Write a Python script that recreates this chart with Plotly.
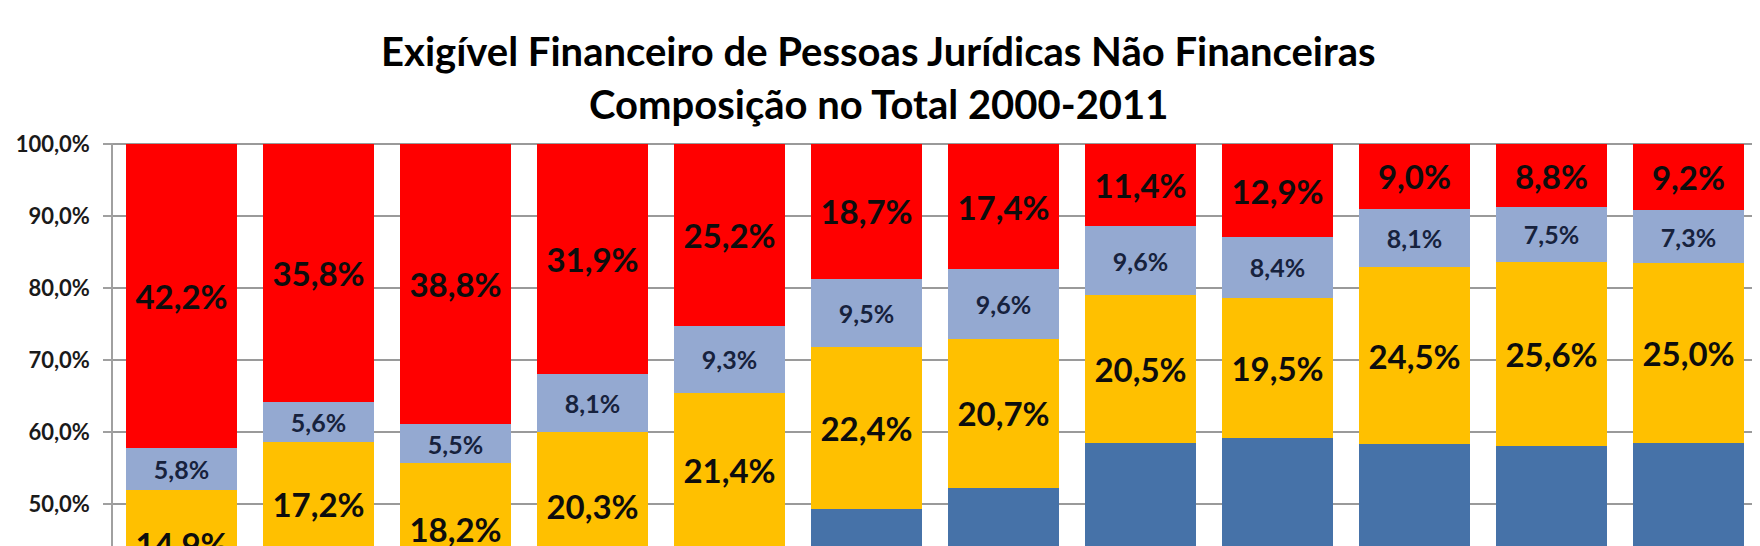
import plotly.graph_objects as go

years = ["2000", "2001", "2002", "2003", "2004", "2005",
         "2006", "2007", "2008", "2009", "2010", "2011"]
# stacked shares (%), bottom to top
blue = [37.1, 41.4, 37.5, 39.7, 44.1, 49.4, 52.3, 58.5, 59.2, 58.4, 58.1, 58.5]
yellow = [14.9, 17.2, 18.2, 20.3, 21.4, 22.4, 20.7, 20.5, 19.5, 24.5, 25.6, 25.0]
lightblue = [5.8, 5.6, 5.5, 8.1, 9.3, 9.5, 9.6, 9.6, 8.4, 8.1, 7.5, 7.3]
red = [42.2, 35.8, 38.8, 31.9, 25.2, 18.7, 17.4, 11.4, 12.9, 9.0, 8.8, 9.2]

tick_vals = [40, 50, 60, 70, 80, 90, 100]
tick_text = ["40,0%", "50,0%", "60,0%", "70,0%", "80,0%", "90,0%", "100,0%"]

title_line1 = "Exigível Financeiro de Pessoas Jurídicas Não Financeiras"
title_line2 = "Composição no Total 2000-2011"


def fmt(v):
    return f"{v:.1f}".replace(".", ",") + "%"


FONT = "Lato"
OFF = 8  # default body margin of the html page
W, H = 1760 - OFF, 546 - OFF
ML, MR, MT, MB = 113 - OFF, 3, 143 - OFF, 0
Y0, Y1 = 44.24, 100.14

fig = go.Figure()

common = dict(textposition="inside", insidetextanchor="middle", textangle=0,
              constraintext="none", marker_line_width=0, hoverinfo="skip")

fig.add_trace(go.Bar(x=years, y=blue, marker_color="#4672A8", name="blue",
                     textposition="none", marker_line_width=0))
fig.add_trace(go.Bar(x=years, y=yellow, marker_color="#FFC000", name="yellow",
                     text=[fmt(v) for v in yellow],
                     textfont=dict(family=FONT, size=33, color="#0d0d0d", weight="bold"),
                     **common))
fig.add_trace(go.Bar(x=years, y=lightblue, marker_color="#94A9D1", name="lightblue",
                     text=[fmt(v) for v in lightblue],
                     textfont=dict(family=FONT, size=25, color="#17223D", weight="bold"),
                     **common))
fig.add_trace(go.Bar(x=years, y=red, marker_color="#FF0000", name="red",
                     text=[fmt(v) for v in red],
                     textfont=dict(family=FONT, size=33, color="#0d0d0d", weight="bold"),
                     **common))

plot_h = H - MT - MB
plot_w = W - ML - MR


def py(pix):
    return (H - MB - (pix - OFF)) / plot_h


def px(pix):
    return (pix - OFF - ML) / plot_w


fig.add_annotation(text=f"<b>{title_line1}</b>", xref="paper", yref="paper",
                   x=px(878), y=py(50.5), xanchor="center", yanchor="middle",
                   showarrow=False, font=dict(family=FONT, size=40, color="#000000"))
fig.add_annotation(text=f"<b>{title_line2}</b>", xref="paper", yref="paper",
                   x=px(878), y=py(104), xanchor="center", yanchor="middle",
                   showarrow=False, font=dict(family=FONT, size=40, color="#000000"))

fig.update_layout(
    width=W, height=H,
    margin=dict(l=ML, r=MR, t=MT, b=MB, pad=0),
    barmode="stack", bargap=0.197,
    showlegend=False,
    paper_bgcolor="white", plot_bgcolor="white",
    xaxis=dict(showticklabels=False, showgrid=False, zeroline=False, ticks="",
               showline=False, range=[-0.5, 11.5]),
    yaxis=dict(range=[Y0, Y1], tickvals=tick_vals, ticktext=tick_text,
               showgrid=True, gridcolor="#9A9A9A", gridwidth=1.5,
               showline=True, linecolor="#A0A0A0", linewidth=1.5,
               ticks="outside", ticklen=8, tickcolor="#A0A0A0", tickwidth=1.5,
               ticklabelstandoff=9, zeroline=False,
               tickfont=dict(family=FONT, size=22, color="#1a1a1a", weight="bold")),
)

fig.write_html("out.html")
